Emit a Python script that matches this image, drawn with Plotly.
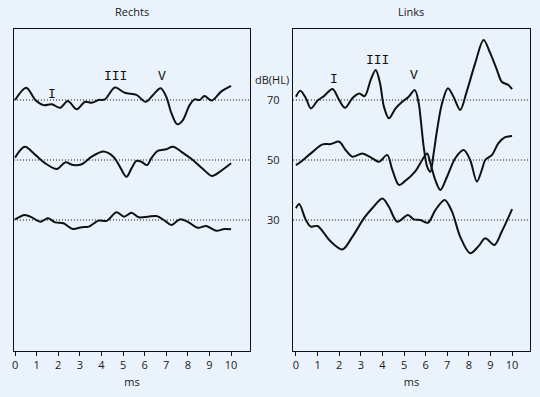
import plotly.graph_objects as go

# ---------------- data (x in ms, y in dB(HL) chart units) ----------------
r70_x = [0, 0.52, 0.94, 1.32, 1.7, 2.09, 2.44, 2.86, 3.24, 3.55, 3.86, 4.16, 4.62, 5.08, 5.62, 6.04,
         6.39, 6.74, 7.0, 7.24, 7.51, 7.77, 8.08, 8.31, 8.54, 8.77, 9.11, 9.54, 10.0]
r70_y = [70, 74.1, 70, 68.3, 68.6, 67.4, 69.7, 66.9, 69.4, 69.1, 70, 70.2, 74.2, 72.4, 71.7, 69.4,
         71.7, 73.9, 71.1, 65.6, 61.9, 63.3, 68.3, 70.2, 70, 71.3, 69.8, 72.8, 74.7]

r50_x = [0, 0.45, 0.94, 1.4, 1.94, 2.32, 2.7, 3.09, 3.55, 4.09, 4.55, 4.85, 5.16, 5.39, 5.62, 5.85,
         6.11, 6.31, 6.62, 7.0, 7.31, 7.77, 8.23, 8.7, 9.11, 9.54, 10.0]
r50_y = [50.8, 54.4, 51.7, 48.9, 47, 49.2, 48.3, 48.6, 51.1, 52.8, 51.1, 47.8, 44.4, 47.2, 49.7, 49.4,
         48.3, 50.6, 53.1, 53.6, 54.4, 52.4, 50, 47, 44.7, 46.4, 48.9]

r30_x = [0, 0.45, 0.78, 1.17, 1.52, 1.86, 2.24, 2.67, 3.09, 3.42, 3.86, 4.24, 4.7, 5.05, 5.39, 5.73,
         6.16, 6.54, 6.93, 7.24, 7.62, 8.0, 8.46, 8.85, 9.31, 9.69, 10.0]
r30_y = [30.2, 31.7, 30.9, 29.4, 30.6, 29.2, 28.9, 27, 27.6, 27.8, 29.8, 29.7, 32.6, 31.1, 32.4, 30.9,
         31.1, 31.3, 29.8, 28.3, 30.2, 29.4, 27.4, 28, 26.4, 27, 26.9]

l70_x = [0, 0.2, 0.46, 0.69, 1.0, 1.3, 1.69, 2.0, 2.27, 2.61, 2.92, 3.18, 3.46, 3.69, 3.89, 4.07, 4.3,
         4.61, 4.92, 5.22, 5.5, 5.68, 5.76, 5.91, 6.07, 6.22, 6.37, 6.53, 6.76, 7.03, 7.29, 7.6, 7.9,
         8.29, 8.68, 8.99, 9.3, 9.52, 9.83, 10.0]
l70_y = [71.1, 73.1, 70.6, 67.2, 69.8, 71.3, 73.7, 70, 67.4, 70.6, 72.2, 71.3, 76.7, 80, 75.6, 67.8, 63.9,
         67.2, 69.4, 71.1, 73.3, 68.9, 64.4, 54.4, 47.8, 46.1, 52.2, 60, 68.9, 73.9, 71.1, 66.7, 72.8,
         82.2, 90, 85.6, 80, 76.1, 75, 73.6]

l50_x = [0, 0.23, 0.69, 1.23, 1.61, 2.0, 2.3, 2.61, 3.07, 3.46, 3.84, 4.22, 4.46, 4.76, 5.0, 5.53, 5.84,
         6.07, 6.22, 6.45, 6.68, 6.99, 7.37, 7.76, 8.06, 8.37, 8.6, 8.76, 9.07, 9.37, 9.68, 10.0]
l50_y = [48.3, 49.4, 52.2, 55.2, 55.3, 56.1, 53.3, 51.1, 52.2, 50.9, 49.4, 51.7, 46.7, 41.7, 42.7, 46.3, 50,
         52.2, 48.9, 43.3, 40, 44.4, 50.6, 53.3, 50, 42.8, 46.7, 50, 51.7, 55.6, 57.6, 58]

l30_x = [0, 0.15, 0.46, 0.69, 1.0, 1.3, 1.61, 2.15, 2.61, 3.15, 3.53, 4.0, 4.3, 4.69, 5.18, 5.45, 5.76,
         6.11, 6.45, 6.88, 7.22, 7.6, 8.06, 8.45, 8.76, 9.18, 9.52, 10.0]
l30_y = [33.9, 35.3, 30, 27.8, 28, 25.6, 22.8, 20.2, 24.4, 30.6, 33.9, 37.2, 34.4, 29.4, 31.7, 30.2, 30,
         29.1, 33.3, 36.7, 32.8, 24.4, 18.9, 21.3, 23.9, 21.7, 26.1, 33.6]

levels = [30, 50, 70]
level_labels = ["30", "50", "70"]
x_ticks = list(range(0, 11))
panel_titles = ["Rechts", "Links"]

peak_labels = ["I", "III", "V"]
r_peak_x = [1.7, 4.65, 6.82]
r_peak_y = [71.7, 78, 78]
l_peak_x = [1.77, 3.79, 5.48]
l_peak_y = [76.7, 83.3, 78.3]

# ---------------- figure ----------------
BG = "#eaf2fb"
LINE = "#111111"
fig = go.Figure()

for xs, ys in [(r70_x, r70_y), (r50_x, r50_y), (r30_x, r30_y)]:
    fig.add_trace(go.Scatter(x=xs, y=ys, mode="lines", line=dict(color=LINE, width=2, shape="spline", smoothing=0.9),
                             xaxis="x", yaxis="y", showlegend=False, hoverinfo="skip"))
for xs, ys in [(l70_x, l70_y), (l50_x, l50_y), (l30_x, l30_y)]:
    fig.add_trace(go.Scatter(x=xs, y=ys, mode="lines", line=dict(color=LINE, width=2, shape="spline", smoothing=0.9),
                             xaxis="x2", yaxis="y2", showlegend=False, hoverinfo="skip"))

shapes = []
for xr, yr in [("x domain", "y"), ("x2 domain", "y2")]:
    for lv in levels:
        shapes.append(dict(type="line", xref=xr, yref=yr, x0=0, x1=1, y0=lv, y1=lv,
                           line=dict(color="#111111", width=1, dash="1px,2px"), layer="below"))

serif_mono = dict(family="'Liberation Mono', 'DejaVu Sans Mono', monospace", size=13, color=LINE)
annotations = []
for lab, px, py in zip(peak_labels, r_peak_x, r_peak_y):
    annotations.append(dict(x=px, y=py, xref="x", yref="y", text=lab, showarrow=False, font=serif_mono))
for lab, px, py in zip(peak_labels, l_peak_x, l_peak_y):
    annotations.append(dict(x=px, y=py, xref="x2", yref="y2", text=lab, showarrow=False, font=serif_mono))

dom_l = [12 / 540, 249 / 540]
dom_r = [292 / 540, 530 / 540]
dom_y = [1 - 351 / 397, 1 - 29 / 397]

font = dict(family="'Open Sans', 'DejaVu Sans', sans-serif", size=11, color="#1a1a1a")
for title, dom in zip(panel_titles, [dom_l, dom_r]):
    annotations.append(dict(x=(dom[0] + dom[1]) / 2, y=1 - 12 / 397, xref="paper", yref="paper", text=title,
                            showarrow=False, font=font, xanchor="center", yanchor="middle"))
annotations.append(dict(x=271 / 540, y=76.7, xref="paper", yref="y2", text="dB(HL)", showarrow=False,
                        font=font, xanchor="center", yanchor="middle"))

common_x = dict(showgrid=False, zeroline=False, showline=True, mirror=True, linecolor=LINE, linewidth=1.3,
                ticks="outside", ticklen=4, tickwidth=1, tickcolor=LINE, tickvals=x_ticks,
                ticktext=[str(t) for t in x_ticks], tickfont=font,
                title=dict(text="ms", font=font, standoff=6))
common_y = dict(showgrid=False, zeroline=False, showline=True, mirror=True, linecolor=LINE, linewidth=1.3,
                range=[-13.67, 93.67], domain=dom_y)

fig.update_layout(
    width=540, height=397,
    margin=dict(l=0, r=0, t=0, b=0),
    paper_bgcolor=BG, plot_bgcolor=BG,
    xaxis=dict(common_x, domain=dom_l, range=[-0.05, 10.88], anchor="y"),
    yaxis=dict(common_y, showticklabels=False, ticks="", anchor="x"),
    xaxis2=dict(common_x, domain=dom_r, range=[-0.14, 10.83], anchor="y2"),
    yaxis2=dict(common_y, anchor="x2", tickvals=levels, ticktext=level_labels, ticks="",
                tickfont=font, ticklabelstandoff=10),
    shapes=shapes, annotations=annotations,
)

fig.write_html("out.html", config={"displayModeBar": False},
               post_script="document.body.style.margin='0';document.body.style.background='%s';" % BG)
